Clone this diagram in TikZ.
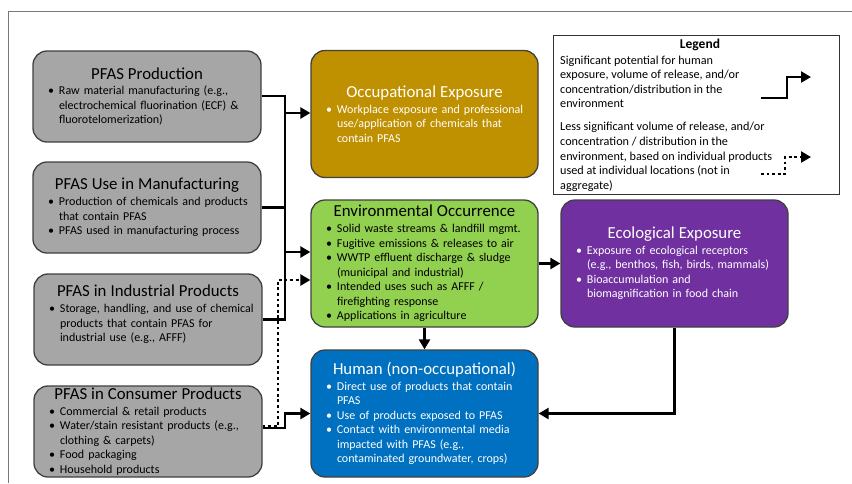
\documentclass[tikz,border=0pt]{standalone}
\usepackage{fontspec}
\setmainfont{Carlito}
\usetikzlibrary{arrows.meta,calc}
\definecolor{grayfill}{RGB}{166,166,166}
\definecolor{boxline}{RGB}{64,64,64}
\definecolor{occc}{RGB}{191,144,0}
\definecolor{envc}{RGB}{146,208,80}
\definecolor{humc}{RGB}{0,112,192}
\definecolor{ecoc}{RGB}{112,48,160}
\definecolor{framec}{RGB}{120,120,120}
\newcommand{\bl}[1]{\par\noindent\hbox{\makebox[11pt][l]{\textbullet}#1}}
\newcommand{\cl}[1]{\par\noindent\hbox{\hspace*{11pt}#1}}
\newcommand{\ttl}[1]{{\fontsize{16.8}{19}\selectfont\centering #1\par}\vspace{1.2pt}}
\tikzset{
  gbox/.style={draw=boxline, line width=1.3pt, fill=grayfill, rounded corners=14pt,
    minimum width=228pt, minimum height=91pt, inner sep=0pt},
  cbox/.style={draw=boxline, line width=1.3pt, rounded corners=14pt,
    minimum width=227pt, minimum height=127pt, inner sep=0pt},
  legbox/.style={draw=black!80, line width=0.9pt, minimum width=286pt, minimum height=159pt, inner sep=0pt},
  txt/.style={text width=#1, inner sep=0pt, align=left, font=\fontsize{12}{14.5}\selectfont},
  conn/.style={line width=2.6pt},
  arr/.style={line width=2.6pt, -{Triangle[length=10pt,width=11pt]}},
  dotarr/.style={line width=2.8pt, dash pattern=on 2.8pt off 2.8pt, -{Triangle[length=10pt,width=11pt]}},
}
\begin{document}
\begin{tikzpicture}[x=1pt,y=-1pt]
\useasboundingbox (0,0) rectangle (852,483);
\draw[framec, line width=1pt] (8,483) -- (8,11) -- (852,11);

% boxes
\node[gbox] (prod) at (147,96.5) {};
\node[gbox] (mfg) at (147,207.5) {};
\node[gbox] (ind) at (148,319.5) {};
\node[gbox] (cons) at (148,431.5) {};
\node[cbox, fill=occc] (occ) at (424.5,114) {};
\node[cbox, fill=envc] (env) at (424.5,263.5) {};
\node[cbox, fill=humc] (hum) at (424.5,413.5) {};
\node[cbox, fill=ecoc] (eco) at (674.5,263.5) {};
\node[legbox] (leg) at (696,114.5) {};

% texts
\node[txt=198pt] (prodt) at (prod) {\ttl{PFAS Production}%
  \bl{Raw material manufacturing (e.g.,}\cl{electrochemical fluorination (ECF) \&}\cl{fluorotelomerization)}};
\node[txt=198pt] (mfgt) at (mfg) {\ttl{PFAS Use in Manufacturing}%
  \bl{Production of chemicals and products}\cl{that contain PFAS}\bl{PFAS used in manufacturing process}};
\node[txt=198pt] (indt) at ([yshift=5pt]ind.center) {\ttl{PFAS in Industrial Products}%
  \bl{Storage, handling, and use of chemical}\cl{products that contain PFAS for}\cl{industrial use (e.g., AFFF)}};
\node[txt=198pt] (const) at (cons) {\ttl{PFAS in Consumer Products}%
  \bl{Commercial \& retail products}\bl{Water/stain resistant products (e.g.,}\cl{clothing \& carpets)}\bl{Food packaging}\bl{Household products}};
\node[txt=197pt, text=white] (occt) at (occ) {\ttl{Occupational Exposure}%
  \bl{Workplace exposure and professional}\cl{use/application of chemicals that}\cl{contain PFAS}};
\node[txt=197pt] (envt) at (env) {\ttl{Environmental Occurrence}%
  \bl{Solid waste streams \& landfill mgmt.}\bl{Fugitive emissions \& releases to air}\bl{WWTP effluent discharge \& sludge}\cl{(municipal and industrial)}\bl{Intended uses such as AFFF /}\cl{firefighting response}\bl{Applications in agriculture}};
\node[txt=197pt, text=white] (humt) at (hum) {\ttl{Human (non-occupational)}%
  \bl{Direct use of products that contain}\cl{PFAS}\bl{Use of products exposed to PFAS}\bl{Contact with environmental media}\cl{impacted with PFAS (e.g.,}\cl{contaminated groundwater, crops)}};
\node[txt=197pt, text=white] (ecot) at (eco) {\ttl{Ecological Exposure}%
  \bl{Exposure of ecological receptors}\cl{(e.g., benthos, fish, birds, mammals)}\bl{Bioaccumulation and}\cl{biomagnification in food chain}};

% legend
\node[font=\bfseries\fontsize{13.5}{15}\selectfont, inner sep=0pt] (legt) at (700,45) {Legend};
\node[anchor=north west, inner sep=0pt, align=left, font=\fontsize{12.2}{14.6}\selectfont] (legtx) at (560,55.5)
 {Significant potential for human\\exposure, volume of release, and/or\\concentration/distribution in the\\environment\\[8.3pt]%
  Less significant volume of release, and/or\\concentration / distribution in the\\environment, based on individual products\\used at individual locations (not in\\aggregate)};
\coordinate (la1) at (761,98);
\coordinate (la2) at (811,77);
\coordinate (lb1) at (761,174);
\coordinate (lb2) at (811,157);
\draw[arr] (la1) -- (787,98) -- (787,77) -- (la2);
\draw[dotarr] (lb1) -- (785,174) -- (785,157) -- (lb2);

% connectors
\coordinate (bus) at (285,0);
\draw[conn] (prod.east |- 0,96) -| (bus |- ind.east) -- (ind.east);
\draw[conn] (mfg.east) -- (bus |- mfg.east);
\draw[arr] (bus |- 0,113) -- (occ.west |- 0,113);
\draw[arr] (bus |- 0,252) -- (env.west |- 0,252);
\draw[dotarr] (cons.east |- 0,426) -| (278,280) -- (env.west |- 0,280);
\draw[arr] (cons.east |- 0,428) -| (bus |- hum.west) -- (hum.west);
\draw[arr] (env.south) -- (hum.north);
\draw[arr] (env.east) -- (eco.west);
\draw[arr] (eco.south) |- (hum.east);
\end{tikzpicture}
\end{document}
